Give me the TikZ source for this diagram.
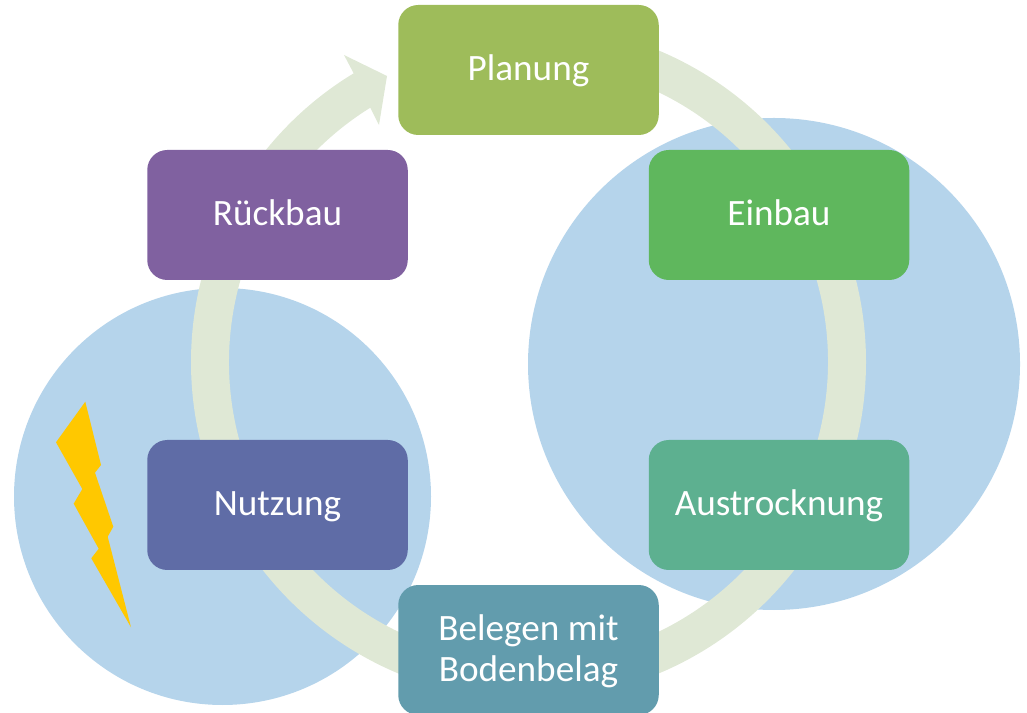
\documentclass[tikz,border=0pt]{standalone}
\usepackage{fontspec}
\setmainfont{Carlito}
\definecolor{ringc}{HTML}{DFE8D5}
\definecolor{circc}{HTML}{B5D4EB}
\definecolor{boltc}{HTML}{FFC800}
\definecolor{cPlan}{HTML}{9EBC5A}
\definecolor{cEin}{HTML}{5FB75D}
\definecolor{cAus}{HTML}{5DB090}
\definecolor{cBel}{HTML}{629CAD}
\definecolor{cNut}{HTML}{5F6CA6}
\definecolor{cRue}{HTML}{8061A0}
\tikzset{
  phase/.style={rectangle,rounded corners=20pt,minimum width=260.5pt,minimum height=130pt,
    inner sep=0pt,text=white,align=center,text height=31pt,text depth=9pt,
    font=\fontsize{37.2}{41}\selectfont},
  twolines/.style={text height=68pt,text depth=5pt},
  blob/.style={circle,fill=circc,inner sep=0pt},
}
\begin{document}
\begin{tikzpicture}[x=1pt,y=1pt]
\useasboundingbox (0,0) rectangle (1027,712);
\node[blob,minimum size=492pt] (cr) at (774,348) {};
\node[blob,minimum size=417pt] (cl) at (222.5,215.5) {};
\coordinate (c) at (528.5,350);
\fill[ringc] ([shift={(c)}]90:337.5) arc[start angle=90,end angle=-238.8,radius=337.5]
  -- (344,657) -- (387,636) -- (379,587)
  -- ([shift={(c)}]121.9:299.5) arc[start angle=-238.1,end angle=90,radius=299.5] -- cycle;
\fill[boltc] (85.3,310.3) -- (101,247) -- (95,239.3) -- (113.3,185.3) -- (107.7,175.3)
  -- (131,84.7) -- (91.3,153.7) -- (98.7,163.3) -- (73.7,208.3) -- (82.3,223) -- (56,269.7) -- cycle;
\node[phase,fill=cPlan] (plan) at (528.5,642) {Planung};
\node[phase,fill=cEin] (ein) at (779,497) {Einbau};
\node[phase,fill=cAus] (aus) at (779,207) {Austrocknung};
\node[phase,twolines,fill=cBel] (bel) at (528.5,62) {Belegen mit\\Bodenbelag};
\node[phase,fill=cNut] (nut) at (277.5,207) {Nutzung};
\node[phase,fill=cRue] (rue) at (277.5,497) {Rückbau};
\end{tikzpicture}
\end{document}
